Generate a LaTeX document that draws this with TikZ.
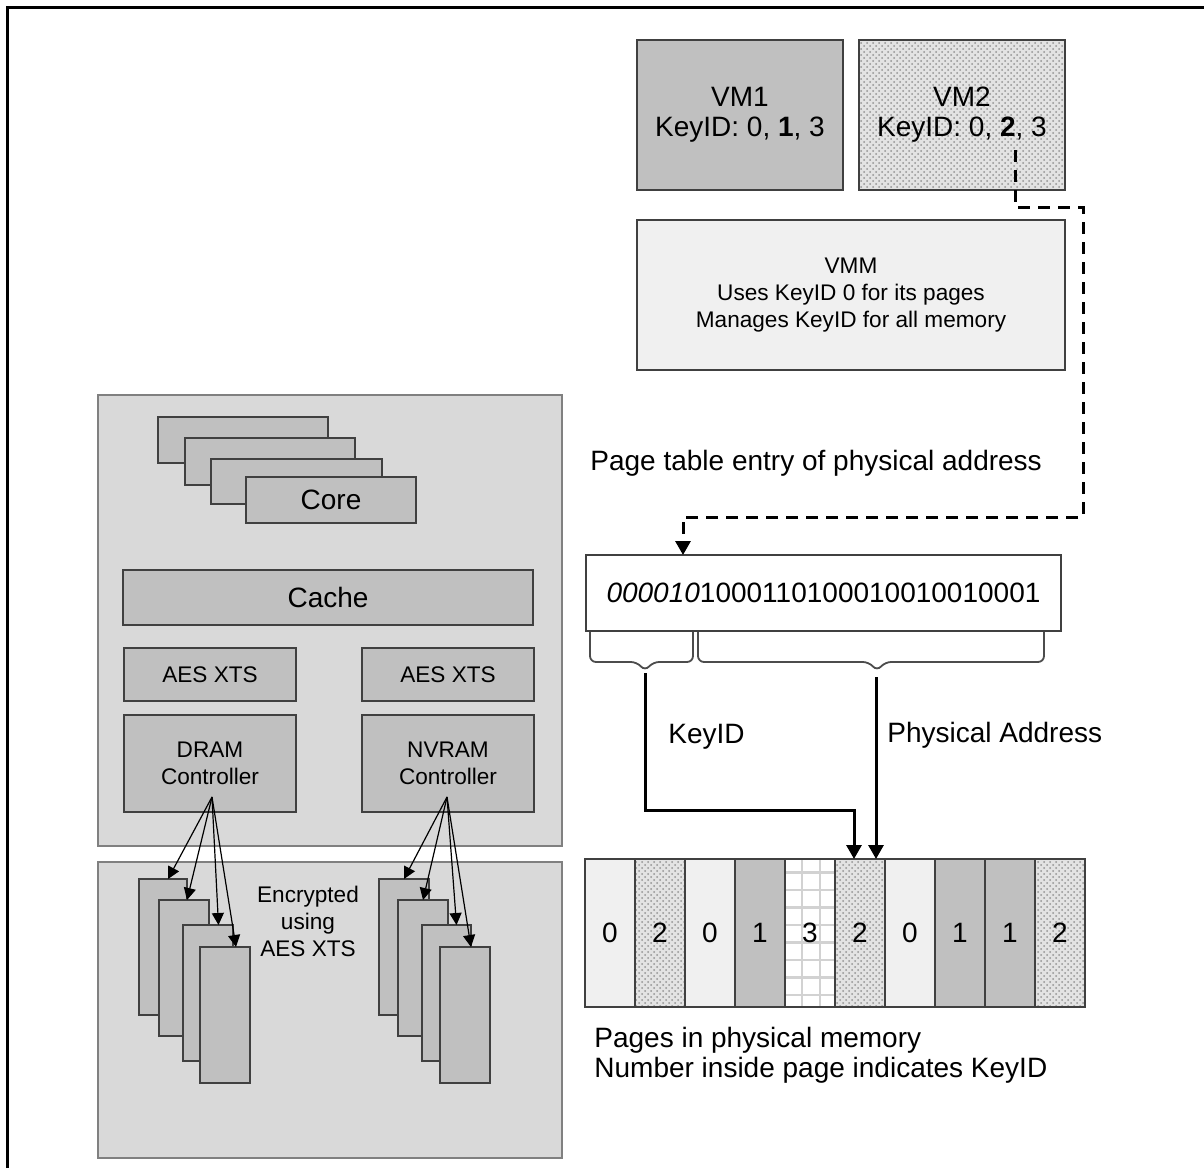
\documentclass[tikz,border=0pt]{standalone}
\usepackage{fontspec}
\setmainfont{Liberation Sans}
\usetikzlibrary{arrows.meta,patterns}

\definecolor{darkfill}{HTML}{C0C0C0}
\definecolor{lightfill}{HTML}{F0F0F0}
\definecolor{panelfill}{HTML}{D9D9D9}
\definecolor{edge}{HTML}{404040}

\tikzset{
  big/.style={font=\fontsize{14}{15}\selectfont},
  small/.style={font=\fontsize{11.3}{13.5}\selectfont},
  box/.style={draw=edge, line width=1pt, inner sep=0pt, outer sep=0pt, align=center},
  panel/.style={draw=gray, fill=panelfill, line width=1pt, inner sep=0pt, outer sep=0pt},
  hatched/.style={preaction={fill=gray!22}, pattern=crosshatch dots, pattern color=gray!85},
  gridded/.style={fill=white, path picture={\draw[gray!35, step=8.75pt]
      (path picture bounding box.south west) grid (path picture bounding box.north east);}},
  page/.style={box, big, line width=1.2pt, minimum width=25pt, minimum height=74pt},
  module/.style={box, fill=darkfill, minimum width=25pt, minimum height=68pt},
  fan/.style={line width=0.6pt, -{Triangle[length=6pt,width=6pt]}},
  bold arrow/.style={line width=1.5pt, -{Triangle[length=7pt,width=7.5pt]}},
  keylink/.style={line width=1.5pt, dash pattern=on 6pt off 4pt, -{Triangle[length=7pt,width=7.5pt]}},
  brace/.style={draw=gray!60!black, line width=0.9pt, rounded corners=3pt}
}

\begin{document}
\begin{tikzpicture}[x=0.5pt,y=-0.5pt]
\useasboundingbox (0,0) rectangle (1204,1168);

% frame
\draw[line width=1.5pt] (7,1168) -- (7,7) -- (1204,7);

% guests and VMM
\node[box, big, fill=darkfill, minimum width=103pt, minimum height=75pt] (vm1) at (740,115) {\rule{0pt}{6pt}VM1\\KeyID: 0, \textbf{1}, 3};
\node[box, big, hatched, minimum width=103pt, minimum height=75pt] (vm2) at (962,115) {\rule{0pt}{6pt}VM2\\KeyID: 0, \textbf{2}, 3};
\node[box, small, fill=lightfill, minimum width=214pt, minimum height=75pt] (vmm) at (851,295) {VMM\\Uses KeyID 0 for its pages\\Manages KeyID for all memory};

% processor package
\node[panel, minimum width=232pt, minimum height=225.5pt] (cpu) at (330,620.5) {};
\node[box, fill=darkfill, minimum width=85pt, minimum height=23pt] (core1) at (243,440) {};
\node[box, fill=darkfill, minimum width=85pt, minimum height=23.5pt] (core2) at (270,461.5) {};
\node[box, fill=darkfill, minimum width=85.5pt, minimum height=22.5pt] (core3) at (296.5,481.5) {};
\node[box, big, fill=darkfill, minimum width=85pt, minimum height=23pt] (core4) at (331,500) {Core};
\node[box, big, fill=darkfill, minimum width=205pt, minimum height=27.5pt] (cache) at (328,597.5) {Cache};
\node[box, small, fill=darkfill, minimum width=86pt, minimum height=26.5pt] (aesl) at (210,674.5) {AES XTS};
\node[box, small, fill=darkfill, minimum width=86pt, minimum height=26.5pt] (aesr) at (448,674.5) {AES XTS};
\node[box, small, fill=darkfill, minimum width=86pt, minimum height=48.5pt] (dram) at (210,763.5) {DRAM\\Controller};
\node[box, small, fill=darkfill, minimum width=86pt, minimum height=48.5pt] (nvram) at (448,763.5) {NVRAM\\Controller};

% memory modules
\node[panel, minimum width=232pt, minimum height=148pt] (dimms) at (330,1010) {};
\node[module, minimum width=24pt] (dm1) at (163,947) {};
\node[module] (dm2) at (184,968) {};
\node[module] (dm3) at (207.5,993) {};
\node[module] (dm4) at (225,1015) {};
\node[module] (nm1) at (404,947) {};
\node[module] (nm2) at (423,968) {};
\node[module, minimum width=24.5pt] (nm3) at (446.5,993) {};
\node[module] (nm4) at (465,1015) {};
\node[small, align=center, inner sep=0pt] (enc) at (308,921) {Encrypted\\using\\AES XTS};

\coordinate (dramfan) at (212,797);
\coordinate (nvramfan) at (447,797);
\draw[fan] (dramfan) -- ([xshift=2.5pt]dm1.north);
\draw[fan] (dramfan) -- ([xshift=1.5pt]dm2.north);
\draw[fan] (dramfan) -- ([xshift=5.5pt]dm3.north);
\draw[fan] (dramfan) -- ([xshift=5.5pt]dm4.north);
\draw[fan] (nvramfan) -- (nm1.north);
\draw[fan] (nvramfan) -- (nm2.north);
\draw[fan] (nvramfan) -- ([xshift=5pt]nm3.north);
\draw[fan] (nvramfan) -- ([xshift=3pt]nm4.north);

% page table entry
\node[big, anchor=west, inner sep=0pt] (ptelabel) at (590,463) {Page table entry of physical address};
\node[box, big, fill=white, minimum width=237.5pt, minimum height=38pt] (pte) at (823.5,593) {\textit{000010}1000110100010010010001};

\coordinate (keysel) at (1015,150);
\draw[keylink] (keysel) |- (1083,207) |- (683,517) -- (683,517 |- pte.north);

\draw[brace] (590,632) -- (590,662) -- (637,662) -- (645,671) -- (653,662) -- (693,662) -- (693,632);
\draw[brace] (698,632) -- (698,662) -- (869,662) -- (877,671) -- (885,662) -- (1044,662) -- (1044,632);

% pages in physical memory
\node[page, fill=lightfill] (p1) at (610,933) {0};
\node[page, hatched] (p2) at (660,933) {2};
\node[page, fill=lightfill] (p3) at (710,933) {0};
\node[page, fill=darkfill] (p4) at (760,933) {1};
\node[page, gridded] (p5) at (810,933) {3};
\node[page, hatched] (p6) at (860,933) {2};
\node[page, fill=lightfill] (p7) at (910,933) {0};
\node[page, fill=darkfill] (p8) at (960,933) {1};
\node[page, fill=darkfill] (p9) at (1010,933) {1};
\node[page, hatched] (p10) at (1060,933) {2};

\coordinate (kbrace) at (645,673);
\coordinate (abrace) at (876,677);
\coordinate (kbend) at (854,810);
\draw[bold arrow] (kbrace) |- (kbend) -- (kbend |- p6.north);
\draw[bold arrow] (abrace) -- (abrace |- p6.north);
\node[big, anchor=west, inner sep=0pt] (keylabel) at (668,737) {KeyID};
\node[big, anchor=west, inner sep=0pt] (addrlabel) at (887,735) {Physical Address};

\node[big, anchor=west, align=left, inner sep=0pt] (pageslabel) at (594,1055) {Pages in physical memory\\Number inside page indicates KeyID};

\end{tikzpicture}
\end{document}
